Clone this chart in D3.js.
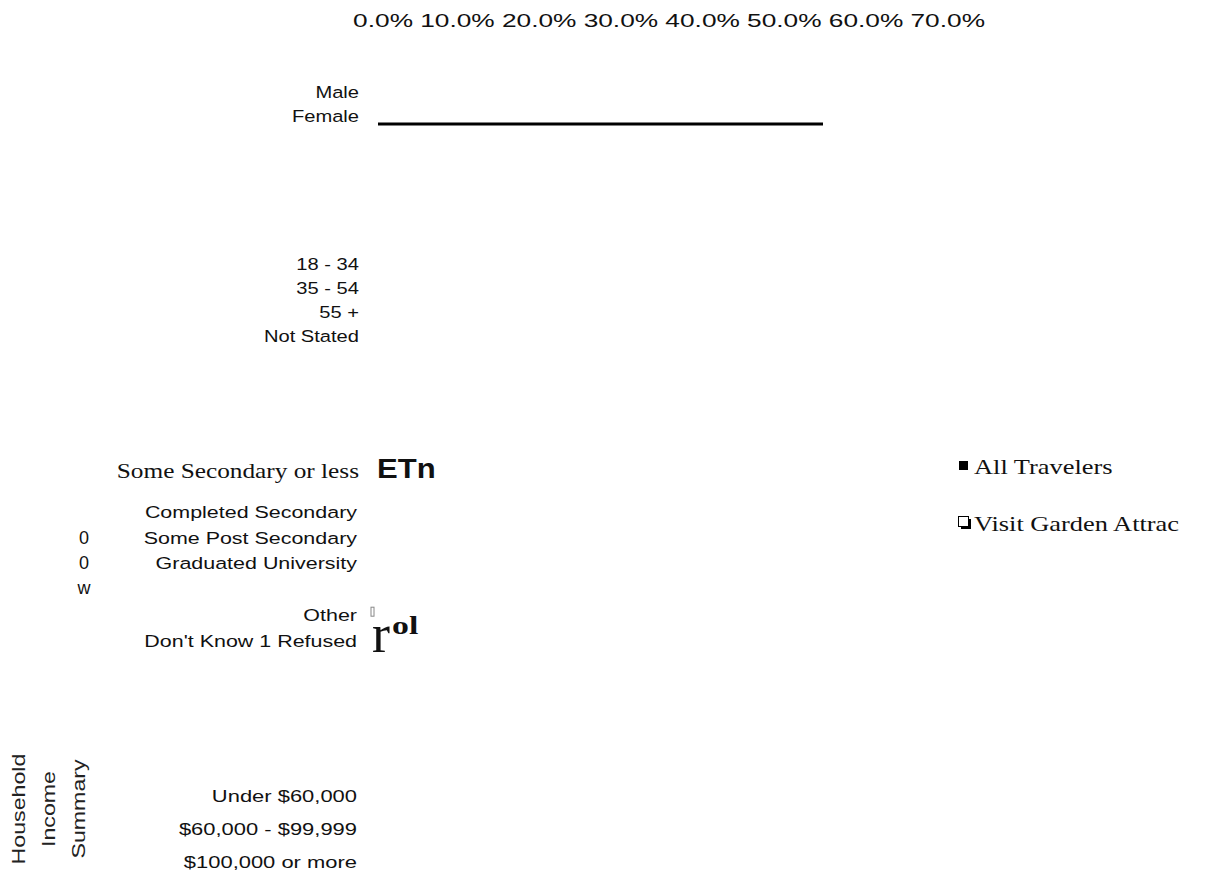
<!DOCTYPE html>
<html>
<head>
<meta charset="utf-8">
<script src="https://cdn.jsdelivr.net/npm/d3@7"></script>
<style>
  body { margin: 0; background: #fff; }
  text { font-family: "Liberation Sans", Arial, sans-serif; fill: #111; }
  .serif { font-family: "Liberation Serif", "Times New Roman", serif; }
</style>
</head>
<body>
<div id="chart"></div>
<script>
// Tick labels along the top
const tickValues = [0, 0.1, 0.2, 0.3, 0.4, 0.5, 0.6, 0.7];

// Category groups
const genderCats = ["Male", "Female"];
const genderValues = [null, 0.5];
const ageCats = ["18 - 34", "35 - 54", "55 +", "Not Stated"];
const eduCats = ["Completed Secondary", "Some Post Secondary", "Graduated University", "", "Other", "Don't Know 1 Refused"];
const eduHeader = "Some Secondary or less";
const incomeCats = ["Under $60,000", "$60,000 - $99,999", "$100,000 or more"];
const sideLetters = ["0", "0", "w"];
const incomeTitle = ["Household", "Income", "Summary"];
const legendItems = ["All Travelers", "Visit Garden Attrac"];

const width = 1217;
const height = 882;

const svg = d3.select('#chart')
  .append('svg')
  .attr('width', width)
  .attr('height', height);

// x scales: one for the tick labels (right-aligned), one for the bar line
const xTicks = d3.scaleLinear().domain([0, 0.7]).range([413, 985]);
const xBar = d3.scaleLinear().domain([0, 0.7]).range([378, 1001]);

// top tick labels, stretched wide like the source
svg.append('g')
  .selectAll('text')
  .data(tickValues)
  .join('text')
  .attr('transform', d => `translate(${xTicks(d)},27) scale(1.46,1)`)
  .attr('text-anchor', 'end')
  .style('font-size', '18px')
  .text(d => d3.format('.1%')(d));

// row scales for each group
const yGender = d3.scalePoint().domain(genderCats).range([92, 116]);
const yAge = d3.scalePoint().domain(ageCats).range([264, 336]);
const yEdu = d3.scalePoint().domain(eduCats).range([512, 641]);
const yIncome = d3.scalePoint().domain(incomeCats).range([796, 862]);

// right-aligned row labels, horizontally stretched
function rowLabels(cats, y, xEnd, sx) {
  svg.append('g')
    .selectAll('text')
    .data(cats)
    .join('text')
    .attr('transform', d => `translate(${xEnd},${y(d)}) scale(${sx},1)`)
    .attr('dy', '0.35em')
    .attr('text-anchor', 'end')
    .style('font-size', '16.5px')
    .text(d => d);
}

rowLabels(genderCats, yGender, 359, 1.22);
rowLabels(ageCats, yAge, 359, 1.22);
rowLabels(eduCats, yEdu, 357, 1.3);
rowLabels(incomeCats, yIncome, 357, 1.33);

// the only drawn bar: a thin line under Female
svg.append('g')
  .selectAll('line')
  .data(genderCats.map((c, i) => ({ c, v: genderValues[i] })).filter(d => d.v != null))
  .join('line')
  .attr('x1', xBar(0))
  .attr('x2', d => xBar(d.v))
  .attr('y1', d => yGender(d.c) + 8)
  .attr('y2', d => yGender(d.c) + 8)
  .attr('stroke', '#000')
  .attr('stroke-width', 3);

// education header in serif
const eduHeaderY = yEdu(eduCats[0]) - 42;
svg.append('text')
  .attr('class', 'serif')
  .attr('transform', `translate(359,${eduHeaderY}) scale(1.15,1)`)
  .attr('dy', '0.35em')
  .attr('text-anchor', 'end')
  .style('font-size', '22px')
  .text(eduHeader);

// stray glyphs
svg.append('text')
  .attr('transform', `translate(377,${eduHeaderY - 1}) scale(1.15,1)`)
  .attr('dy', '0.35em')
  .style('font-size', '27px')
  .style('font-weight', 'bold')
  .text('ETn');

svg.append('rect')
  .attr('x', 371)
  .attr('y', yEdu('Other') - 8)
  .attr('width', 3)
  .attr('height', 9)
  .attr('fill', 'none')
  .attr('stroke', '#888')
  .attr('stroke-width', 1);

const dkY = yEdu("Don't Know 1 Refused");
svg.append('text')
  .attr('class', 'serif')
  .attr('x', 372)
  .attr('y', dkY + 11)
  .style('font-size', '54px')
  .text('r');
svg.append('text')
  .attr('class', 'serif')
  .attr('transform', `translate(392,${dkY - 7}) scale(1.3,1)`)
  .style('font-size', '26px')
  .style('font-weight', 'bold')
  .text('ol');

// side letters
svg.append('g')
  .selectAll('text')
  .data(sideLetters)
  .join('text')
  .attr('x', 84)
  .attr('y', (d, i) => yEdu(eduCats[1]) + i * 25)
  .attr('dy', '0.35em')
  .attr('text-anchor', 'middle')
  .style('font-size', '18px')
  .text(d => d);

// rotated group title
svg.append('g')
  .selectAll('text')
  .data(incomeTitle)
  .join('text')
  .attr('transform', (d, i) => `translate(${18 + i * 30},809) rotate(-90) scale(1.22,1)`)
  .attr('dy', '0.35em')
  .attr('text-anchor', 'middle')
  .style('font-size', '19px')
  .style('fill', '#222')
  .text(d => d);

// legend
const yLegend = d3.scalePoint().domain(legendItems).range([466, 523]);
const legend = svg.append('g');
legend.append('rect')
  .attr('x', 959)
  .attr('y', yLegend(legendItems[0]) - 5)
  .attr('width', 9)
  .attr('height', 9)
  .attr('fill', '#000');
legend.append('rect')
  .attr('x', 961)
  .attr('y', yLegend(legendItems[1]) - 4)
  .attr('width', 10)
  .attr('height', 10)
  .attr('fill', '#000');
legend.append('rect')
  .attr('x', 958.5)
  .attr('y', yLegend(legendItems[1]) - 6.5)
  .attr('width', 10)
  .attr('height', 10)
  .attr('fill', '#fff')
  .attr('stroke', '#000')
  .attr('stroke-width', 1);
legend.selectAll('text')
  .data(legendItems)
  .join('text')
  .attr('class', 'serif')
  .attr('transform', d => `translate(974,${yLegend(d)}) scale(1.2,1)`)
  .attr('dy', '0.35em')
  .style('font-size', '22px')
  .text(d => d);
</script>
</body>
</html>
